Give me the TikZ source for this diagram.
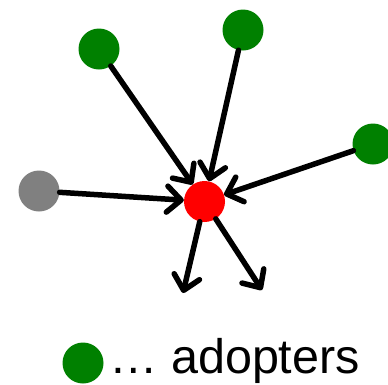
\documentclass[tikz,border=0pt]{standalone}
\usepackage{fontspec}
\setmainfont{Liberation Sans}
\usetikzlibrary{arrows.meta}
\definecolor{adopt}{RGB}{0,128,0}
\definecolor{idle}{RGB}{128,128,128}
\definecolor{focus}{RGB}{255,0,0}
\tikzset{
  dot/.style={circle, inner sep=0pt, minimum size=41pt, draw=none},
  link/.style={line width=5.5pt, -{Straight Barb[length=14pt, width=26pt, line cap=round, line join=round]}, line cap=round}
}
\begin{document}
\begin{tikzpicture}[x=1pt, y=-1pt]
  \useasboundingbox (0,0) rectangle (388,384);
  % network nodes
  \node[dot, fill=adopt] (g1) at (99,49) {};
  \node[dot, fill=adopt] (g2) at (243,30) {};
  \node[dot, fill=adopt] (g3) at (373,144) {};
  \node[dot, fill=idle]  (u1) at (39,191) {};
  \node[dot, fill=focus] (c)  at (204.5,201.5) {};
  % endpoints of the outgoing edges
  \coordinate (o1) at (183,293);
  \coordinate (o2) at (262,290);
  % incoming influence
  \draw[link] (g1) -- (c);
  \draw[link] (g2) -- (c);
  \draw[link] (g3) -- (c);
  \draw[link] (u1) -- (c);
  % outgoing influence
  \draw[link] (c) -- (o1);
  \draw[link] (c) -- (o2);
  % legend
  \node[dot, fill=adopt] (lg) at (83,363) {};
  \node[anchor=west, font=\fontsize{48.5}{52}\selectfont, inner sep=0pt] (lt) at (109,361) {… adopters};
\end{tikzpicture}
\end{document}
